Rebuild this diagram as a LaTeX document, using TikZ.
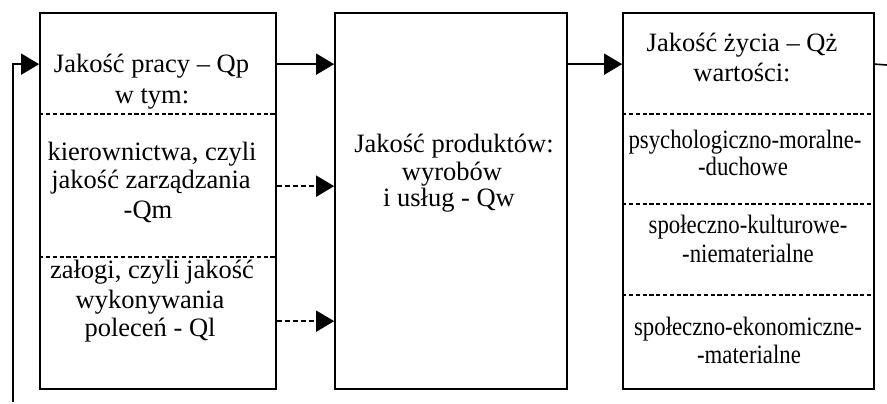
\documentclass[tikz,border=0pt]{standalone}
\usepackage{fontspec}
\setmainfont{Liberation Serif}
\usetikzlibrary{arrows.meta}

\tikzset{
  box/.style={draw, line width=1.7pt, rectangle, minimum height=376pt, inner sep=0pt},
  sep/.style={line width=1.5pt, dash pattern=on 4.2pt off 2.6pt},
  conn/.style={line width=1.6pt},
  arr/.style={conn, -{Triangle[length=18pt,width=21pt]}},
  darr/.style={arr, dash pattern=on 5pt off 3pt},
  txt/.style={anchor=base, inner sep=0pt, font=\fontsize{26.5}{30}\selectfont},
}
\newcommand{\narrow}[1]{\scalebox{0.86}[1]{#1}}

\begin{document}
\begin{tikzpicture}[x=1pt, y=-1pt]
\useasboundingbox (0,0) rectangle (887,404);

% the three blocks
\node[box, minimum width=236pt] (b1) at (158,201) {};
\node[box, minimum width=232pt] (b2) at (451,201) {};
\node[box, minimum width=251pt] (b3) at (748.5,201) {};

% separators inside the first block
\draw[sep] ([yshift=-102pt]b1.north west) -- ([yshift=-102pt]b1.north east);
\draw[sep] ([yshift=-245pt]b1.north west) -- ([yshift=-245pt]b1.north east);

% separators inside the third block
\draw[sep] ([yshift=-102pt]b3.north west) -- ([yshift=-102pt]b3.north east);
\draw[sep] ([yshift=-192pt]b3.north west) -- ([yshift=-192pt]b3.north east);
\draw[sep] ([yshift=-283pt]b3.north west) -- ([yshift=-283pt]b3.north east);

% texts of the first block
\node[txt] (p1) at (151.5,73) {Jakość pracy – Qp};
\node[txt] (p2) at (152,103) {w tym:};
\node[txt] (m1) at (152,160) {kierownictwa, czyli};
\node[txt] (m2) at (151,188) {jakość zarządzania};
\node[txt] (m3) at (148,218) {-Qm};
\node[txt] (l1) at (152,278) {załogi, czyli jakość};
\node[txt] (l2) at (150,308) {wykonywania};
\node[txt] (l3) at (150,336) {poleceń - Ql};

% texts of the second block
\node[txt] (w1) at (454,153) {Jakość produktów:};
\node[txt] (w2) at (452,180) {wyrobów};
\node[txt] (w3) at (449,206) {i usług - Qw};

% texts of the third block
\node[txt] (z1) at (742,52) {Jakość życia – Qż};
\node[txt] (z2) at (742,82) {wartości:};
\node[txt] (v1) at (745,148) {\narrow{psychologiczno-moralne-}};
\node[txt] (v2) at (743,175) {\narrow{-duchowe}};
\node[txt] (v3) at (748,233) {\narrow{społeczno-kulturowe-}};
\node[txt] (v4) at (748,262) {\narrow{-niematerialne}};
\node[txt] (v5) at (748,335) {\narrow{społeczno-ekonomiczne-}};
\node[txt] (v6) at (749,363) {\narrow{-materialne}};

% connectors
\coordinate (fb) at (13,402);
\coordinate (out) at (887,65);
\draw[arr] (fb) |- ([yshift=-52pt]b1.north west);
\draw[arr] ([yshift=-52pt]b1.north east) -- ([yshift=-52pt]b2.north west);
\draw[darr] ([yshift=-174pt]b1.north east) -- ([yshift=-174pt]b2.north west);
\draw[darr] ([yshift=-309pt]b1.north east) -- ([yshift=-309pt]b2.north west);
\draw[arr] ([yshift=-52pt]b2.north east) -- ([yshift=-52pt]b3.north west);
\draw[conn] ([yshift=-52pt]b3.north east) -- (out);
\end{tikzpicture}
\end{document}
